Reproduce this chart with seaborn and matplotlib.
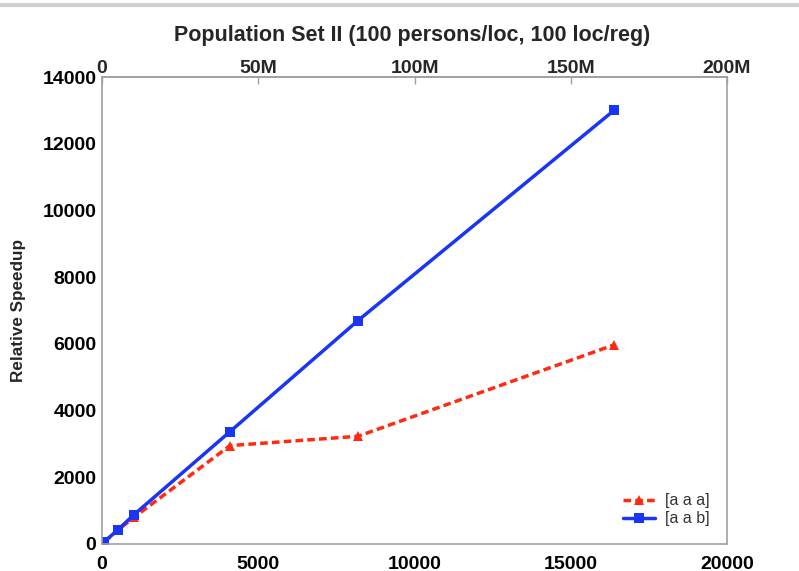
import matplotlib
matplotlib.use("Agg")
import matplotlib.pyplot as plt
import seaborn as sns
import pandas as pd
from matplotlib.lines import Line2D
from matplotlib.ticker import FixedLocator

# ---- data ----
x_vals = [64, 512, 1024, 4096, 8192, 16384]
aaa_vals = [60, 420, 800, 2950, 3230, 5970]
aab_vals = [60, 430, 880, 3370, 6700, 13000]
series_names = ["[a a a]", "[a a b]"]
y_ticks = [0, 2000, 4000, 6000, 8000, 10000, 12000, 14000]
x_ticks = [0, 5000, 10000, 15000, 20000]
top_ticks = [0, 50e6, 100e6, 150e6, 200e6]
top_labels = ["0", "50M", "100M", "150M", "200M"]
title = "Population Set II (100 persons/loc, 100 loc/reg)"
ylabel = "Relative Speedup"

df = pd.DataFrame({
    "x": x_vals * 2,
    "y": aaa_vals + aab_vals,
    "config": [series_names[0]] * len(x_vals) + [series_names[1]] * len(x_vals),
})

sns.set_theme(style="white")
plt.rcParams["font.family"] = ["Liberation Sans", "DejaVu Sans"]

fig = plt.figure(figsize=(7.99, 5.71), dpi=100)
ax = fig.add_axes([0.1277, 0.0473, 0.7822, 0.8178])

palette = {series_names[0]: "#ff2a10", series_names[1]: "#1a35f5"}
sns.lineplot(data=df, x="x", y="y", hue="config", style="config",
             palette=palette,
             markers={series_names[0]: "^", series_names[1]: "s"},
             dashes={series_names[0]: (2.2, 1.2), series_names[1]: ""},
             linewidth=2.5, markersize=7.5, markeredgewidth=0,
             ax=ax, legend=False)

ax.set_xlim(0, 20000)
ax.set_ylim(0, 14000)
ax.set_xticks(x_ticks)
ax.set_xticklabels([str(t) for t in x_ticks])
ax.set_yticks(y_ticks)
ax.set_yticklabels([str(t) for t in y_ticks])
ax.set_xlabel("")
ax.set_ylabel(ylabel, fontsize=12.3, fontweight="bold", labelpad=12)

for sp in ax.spines.values():
    sp.set_color("#a0a0a0")
    sp.set_linewidth(1.2)

ax.tick_params(axis="both", direction="in", length=5, width=1, color="#a0a0a0",
               labelsize=14, labelcolor="black")
ax.tick_params(axis="x", pad=9)
ax.tick_params(axis="y", pad=4)
for lbl in ax.get_xticklabels() + ax.get_yticklabels():
    lbl.set_fontweight("bold")

secax = ax.secondary_xaxis("top", functions=(lambda v: v * 1e4, lambda v: v / 1e4))
secax.xaxis.set_major_locator(FixedLocator(top_ticks))
secax.set_xticklabels(top_labels)
secax.tick_params(direction="in", length=5, width=1, color="#a0a0a0", labelsize=14, pad=0)
for lbl in secax.get_xticklabels():
    lbl.set_fontweight("bold")
secax.spines["top"].set_color("#a0a0a0")

fig.text(0.516, 0.938, title, fontsize=15.5, fontweight="bold", ha="center", va="center")

handles = [
    Line2D([0], [0], color=palette[series_names[0]], ls=(0, (2.2, 1.2)), lw=2.5, marker="^", ms=7.5, mew=0),
    Line2D([0], [0], color=palette[series_names[1]], ls="-", lw=2.5, marker="s", ms=7.5, mew=0),
]
leg = ax.legend(handles, series_names, loc="lower right", frameon=False, fontsize=11.5,
                handlelength=2.0, borderaxespad=0.7, labelspacing=0.2, handletextpad=0.6)
for t in leg.get_texts():
    t.set_color("#333333")

fig.add_artist(Line2D([0, 1], [0.991, 0.991], color="#d0d0d0", lw=3, transform=fig.transFigure))

fig.savefig("out.png", dpi=100)
